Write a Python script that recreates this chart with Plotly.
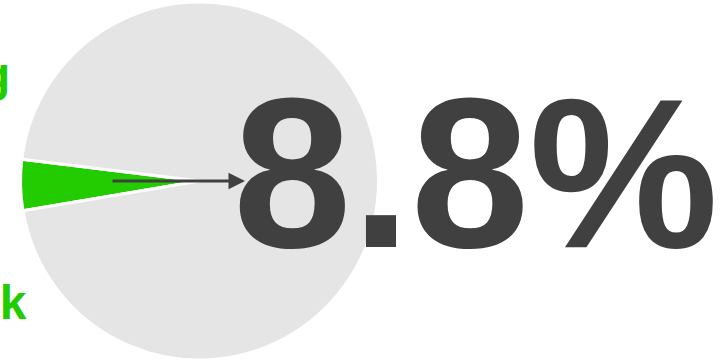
import plotly.graph_objects as go

# Data
labels = ["Share", "Rest"]
values = [4.6, 95.4]
headline = "8.8%"
label_top = ["Not sure", "disagreeing"]
label_bottom = "Feedback"

GREEN = "#22cc00"
GRAY = "#e5e5e5"
DARK = "#404040"
FONT = "Liberation Sans"
W, H = 722, 362

fig = go.Figure()
fig.add_trace(go.Pie(
    labels=labels,
    values=values,
    sort=False,
    direction="clockwise",
    rotation=-99.6,
    marker=dict(colors=[GREEN, GRAY], line=dict(color="white", width=3)),
    textinfo="none",
    hoverinfo="skip",
    showlegend=False,
    domain=dict(x=[20 / W, 379 / W], y=[(H - 360) / H, (H - 2) / H]),
))

fig.add_annotation(
    x=245 / W, y=0.5, xref="paper", yref="paper",
    ax=-(245 - 111), ay=0, axref="pixel", ayref="pixel",
    text="", showarrow=True, arrowhead=2, arrowsize=1.1, arrowwidth=3,
    arrowcolor=DARK,
)

fig.add_annotation(
    x=231 / W, y=1 - 173 / H, xref="paper", yref="paper",
    xanchor="left", yanchor="middle", showarrow=False,
    text=headline,
    font=dict(family=FONT, size=213, color=DARK, weight="bold"),
)

fig.add_annotation(
    x=12 / W, y=1 - 74 / H, xref="paper", yref="paper",
    xanchor="right", yanchor="middle", showarrow=False,
    text=label_top[1],
    font=dict(family=FONT, size=48, color=GREEN, weight="bold"),
)
fig.add_annotation(
    x=2 / W, y=1 - 8 / H, xref="paper", yref="paper",
    xanchor="right", yanchor="middle", showarrow=False,
    text=label_top[0],
    font=dict(family=FONT, size=48, color=GREEN, weight="bold"),
)
fig.add_annotation(
    x=29 / W, y=1 - 302 / H, xref="paper", yref="paper",
    xanchor="right", yanchor="middle", showarrow=False,
    text=label_bottom,
    font=dict(family=FONT, size=48, color=GREEN, weight="bold"),
)

fig.update_layout(
    width=W, height=H,
    margin=dict(l=0, r=0, t=0, b=0),
    paper_bgcolor="white", plot_bgcolor="white",
)

fig.write_html("out.html")
